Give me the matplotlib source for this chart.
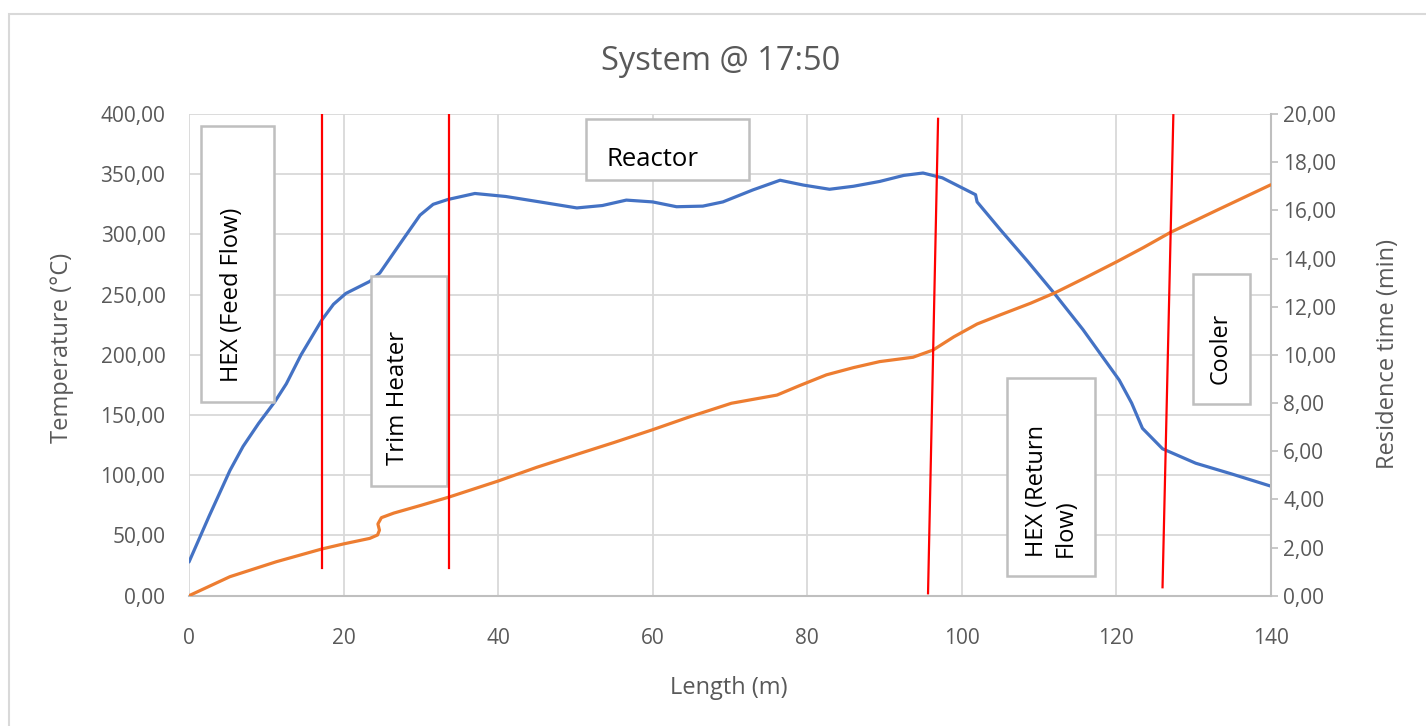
import matplotlib
matplotlib.use("Agg")
import matplotlib.pyplot as plt
from matplotlib.patches import Rectangle
from matplotlib.ticker import FuncFormatter, MultipleLocator

# ---- data ----
temp_x = [0, 2.6, 5.3, 7.0, 9.0, 11.1, 12.6, 14.5, 17.2, 18.7, 20.3, 23.4, 24.7, 27.5,
          29.9, 31.6, 33.5, 37.0, 41, 45.4, 50.2, 53.5, 56.6, 60, 63.1, 66.5, 69.1, 73,
          76.5, 79.5, 82.9, 86, 89.4, 92.5, 95.0, 97.5, 101.8, 102.0, 105, 108.5, 112.0,
          115.7, 120.4, 122, 123.4, 126.0, 130.3, 135, 140]
temp_y = [28, 66, 104, 124, 143, 161, 176, 200, 229, 242, 251, 261, 268, 294,
          316, 325, 329, 334, 331.5, 327, 322, 324, 328.5, 327, 323, 323.5, 327, 337,
          345, 341, 337.5, 340, 344, 349, 351, 347, 333, 327, 304, 278, 251,
          221, 179, 160, 139, 122, 110, 101, 91]

res_x = [0, 5.3, 11.3, 17.2, 20.0, 23.4, 24.4, 24.65, 24.45, 24.9, 26.5, 30, 33.6, 40.0,
         45, 50.6, 55, 59.9, 65, 70.2, 76.1, 79, 82.5, 86, 89.4, 93.7, 96.3, 99, 102.0,
         105.0, 108.9, 112.1, 116, 120.1, 123.5, 127.0, 133, 140]
res_y = [0, 0.79, 1.41, 1.94, 2.15, 2.38, 2.52, 2.72, 2.98, 3.24, 3.43, 3.75, 4.09, 4.76,
         5.33, 5.91, 6.36, 6.88, 7.45, 7.99, 8.33, 8.72, 9.17, 9.47, 9.72, 9.90, 10.2, 10.75, 11.28,
         11.66, 12.14, 12.58, 13.2, 13.87, 14.45, 15.08, 16.0, 17.06]

# red divider lines: (x_bottom, T_bottom, x_top, T_top)
dividers = [(17.15, 23, 17.15, 399),
            (33.65, 23, 33.65, 399),
            (95.65, 2, 96.95, 396),
            (126.0, 7, 127.4, 399)]

# text boxes: (label, x0, x1, T0, T1, text_x, text_T, rotation, size)
boxes = [("HEX (Feed Flow)", 1.5, 11.0, 160.6, 390, 5.6, 250, 90, 17),
         ("Trim Heater", 23.5, 33.4, 91.4, 265.5, 27.1, 164.6, 90, 17.3),
         ("Reactor", 51.4, 72.5, 345, 396, 54.0, 362, 0, 18.5),
         ("HEX (Return\nFlow)", 105.9, 117.2, 16.4, 180.5, 111.6, 87, 90, 17),
         ("Cooler", 129.9, 137.3, 159, 267, 133.5, 205, 90, 16.8)]

title = "System @ 17:50"

# ---- figure ----
W, H = 1426, 726
fig = plt.figure(figsize=(W / 100, H / 100), dpi=100)
fig.patch.set_facecolor("white")
fig.patches.append(Rectangle((9 / W, -0.05), 1.2, 1 - 14 / H + 0.05, transform=fig.transFigure,
                             fill=False, edgecolor="#D9D9D9", linewidth=1.5))

FONT = "Open Sans"
GRAY = "#595959"

ax = fig.add_axes([189 / W, 1 - 595.7 / H, (1270.7 - 189) / W, (595.7 - 114) / H])
ax2 = ax.twinx()

ax.plot(temp_x, temp_y, color="#4472C4", linewidth=2.3, solid_capstyle="round",
        solid_joinstyle="round", zorder=3)
ax2.plot(res_x, res_y, color="#ED7D31", linewidth=2.3, solid_capstyle="round",
         solid_joinstyle="round", zorder=3)

ax.set_xlim(0, 140)
ax.set_ylim(0, 400)
ax2.set_ylim(0, 20)
ax.xaxis.set_major_locator(MultipleLocator(20))
ax.yaxis.set_major_locator(MultipleLocator(50))
ax2.yaxis.set_major_locator(MultipleLocator(2))

fmt = FuncFormatter(lambda v, p: f"{v:.2f}".replace(".", ","))
ax.yaxis.set_major_formatter(fmt)
ax2.yaxis.set_major_formatter(fmt)

ax.grid(True, color="#D9D9D9", linewidth=1.3)
ax.set_axisbelow(True)

for a in (ax, ax2):
    for s in a.spines.values():
        s.set_visible(False)
ax.spines["bottom"].set_visible(True)
ax.spines["bottom"].set_color("#BFBFBF")
ax.spines["bottom"].set_linewidth(1.5)
ax2.spines["right"].set_visible(True)
ax2.spines["right"].set_color("#BFBFBF")
ax2.spines["right"].set_linewidth(1.5)

TS = 15
ax.tick_params(axis="x", length=0, pad=23, labelsize=TS, labelcolor=GRAY)
ax.tick_params(axis="y", length=0, pad=17, labelsize=TS, labelcolor=GRAY)
ax2.tick_params(axis="y", length=5, width=1.2, color="#BFBFBF", pad=4, labelsize=TS, labelcolor=GRAY)
for lab in ax.get_xticklabels() + ax.get_yticklabels() + ax2.get_yticklabels():
    lab.set_fontfamily(FONT)

# boxes and text on top layer
for label, x0, x1, t0, t1, tx, tt, rot, sz in boxes:
    r = Rectangle((x0, t0), x1 - x0, t1 - t0, transform=ax.transData, facecolor="white",
                  edgecolor="#BFBFBF", linewidth=1.8, zorder=5)
    ax2.add_patch(r)
    if rot == 0:
        ax2.text(tx, tt, label, transform=ax.transData, fontsize=sz, family=FONT,
                 color="black", ha="left", va="center", zorder=6)
    else:
        ax2.text(tx, tt, label, transform=ax.transData, fontsize=sz, family=FONT,
                 color="black", ha="center", va="center", rotation=90, zorder=6,
                 multialignment="left", linespacing=1.25)

for xb, tb, xt, tt in dividers:
    ax2.plot([xb, xt], [tb, tt], transform=ax.transData, color="#FF0000",
             linewidth=1.6, zorder=7)

fig.text(721 / W, 1 - 61 / H, title, ha="center", va="center", fontsize=23.5,
         color=GRAY, family=FONT)
fig.text(729 / W, 1 - 688 / H, "Length (m)", ha="center", va="center", fontsize=17,
         color=GRAY, family=FONT)
fig.text(62 / W, 1 - 348 / H, "Temperature (°C)", ha="center", va="center", fontsize=17,
         color=GRAY, family=FONT, rotation=90)
fig.text(1388 / W, 1 - 354 / H, "Residence time (min)", ha="center", va="center", fontsize=17,
         color=GRAY, family=FONT, rotation=90)

fig.savefig("out.png", dpi=100)
